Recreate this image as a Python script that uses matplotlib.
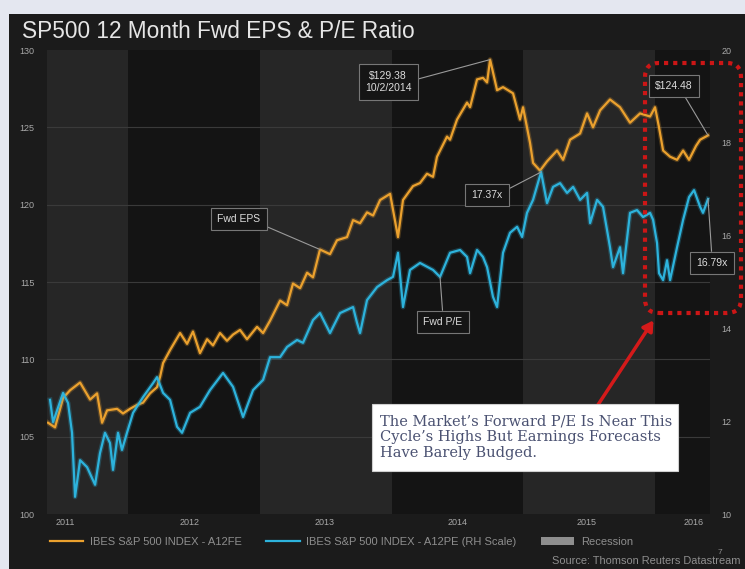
import matplotlib
matplotlib.use("Agg")
import matplotlib.pyplot as plt
import numpy as np
from matplotlib.patches import Rectangle, FancyBboxPatch, FancyArrowPatch
from matplotlib.lines import Line2D
from matplotlib.transforms import IdentityTransform

# ---- data (time in decimal years) ----
eps_t = [2011.393, 2011.446, 2011.507, 2011.560, 2011.636, 2011.712, 2011.765, 2011.803,
         2011.841, 2011.917, 2011.962, 2012.015, 2012.068, 2012.114, 2012.167, 2012.220,
         2012.243, 2012.266, 2012.319, 2012.395, 2012.448, 2012.493, 2012.546, 2012.600,
         2012.645, 2012.698, 2012.751, 2012.797, 2012.850, 2012.903, 2012.979, 2013.025,
         2013.078, 2013.154, 2013.207, 2013.252, 2013.306, 2013.359, 2013.404, 2013.457,
         2013.533, 2013.586, 2013.662, 2013.708, 2013.761, 2013.814, 2013.860, 2013.913,
         2013.989, 2014.049, 2014.087, 2014.163, 2014.216, 2014.269, 2014.315, 2014.345,
         2014.421, 2014.444, 2014.497, 2014.573, 2014.596, 2014.649, 2014.694, 2014.725,
         2014.748, 2014.801, 2014.846, 2014.922, 2014.975, 2014.998, 2015.051, 2015.074,
         2015.127, 2015.180, 2015.256, 2015.302, 2015.355, 2015.431, 2015.484, 2015.529,
         2015.583, 2015.658, 2015.734, 2015.810, 2015.886, 2015.962, 2016.000, 2016.030,
         2016.061, 2016.114, 2016.167, 2016.213, 2016.258, 2016.311, 2016.342, 2016.402]
eps_v = [105.9, 105.6, 107.5, 108.0, 108.5, 107.4, 107.8, 105.9,
         106.7, 106.8, 106.5, 106.8, 107.05, 107.2, 107.8, 108.2,
         108.86, 109.76, 110.6, 111.7, 111.0, 111.8, 110.4, 111.3,
         110.9, 111.7, 111.2, 111.6, 111.9, 111.3, 112.1, 111.7,
         112.5, 113.8, 113.5, 114.9, 114.6, 115.6, 115.3, 117.1,
         116.8, 117.7, 117.9, 119.0, 118.8, 119.5, 119.3, 120.3,
         120.7, 117.9, 120.3, 121.2, 121.4, 122.0, 121.8, 123.1,
         124.4, 124.2, 125.5, 126.6, 126.3, 128.1, 128.2, 127.9,
         129.38, 127.4, 127.6, 127.2, 125.5, 126.3, 124.0, 122.7,
         122.2, 122.8, 123.5, 122.9, 124.2, 124.6, 125.9, 125.0,
         126.1, 126.8, 126.3, 125.3, 125.9, 125.7, 126.3, 125.0,
         123.5, 123.1, 122.9, 123.5, 122.9, 123.8, 124.2, 124.48]

pe_t = [2011.408, 2011.431, 2011.507, 2011.545, 2011.575, 2011.598, 2011.636, 2011.689,
        2011.750, 2011.787, 2011.825, 2011.863, 2011.886, 2011.924, 2011.954, 2011.992,
        2012.038, 2012.114, 2012.190, 2012.220, 2012.266, 2012.319, 2012.372, 2012.410,
        2012.471, 2012.546, 2012.622, 2012.721, 2012.797, 2012.873, 2012.949, 2013.025,
        2013.078, 2013.154, 2013.207, 2013.283, 2013.328, 2013.404, 2013.457, 2013.533,
        2013.609, 2013.708, 2013.738, 2013.761, 2013.814, 2013.890, 2013.966, 2014.011,
        2014.049, 2014.087, 2014.140, 2014.216, 2014.315, 2014.368, 2014.444, 2014.520,
        2014.573, 2014.596, 2014.649, 2014.694, 2014.725, 2014.770, 2014.801, 2014.846,
        2014.899, 2014.953, 2014.991, 2015.028, 2015.074, 2015.135, 2015.180, 2015.226,
        2015.279, 2015.332, 2015.378, 2015.431, 2015.484, 2015.507, 2015.560, 2015.605,
        2015.658, 2015.681, 2015.734, 2015.757, 2015.810, 2015.863, 2015.909, 2015.962,
        2015.985, 2016.015, 2016.030, 2016.061, 2016.091, 2016.114, 2016.167, 2016.213,
        2016.258, 2016.296, 2016.342, 2016.364, 2016.402]
pe_v = [12.46, 11.98, 12.61, 12.39, 11.75, 10.37, 11.16, 11.01,
        10.63, 11.31, 11.75, 11.53, 10.95, 11.75, 11.38, 11.75,
        12.18, 12.52, 12.82, 12.95, 12.61, 12.46, 11.88, 11.75,
        12.18, 12.31, 12.67, 13.04, 12.74, 12.09, 12.67, 12.89,
        13.38, 13.38, 13.60, 13.75, 13.69, 14.18, 14.33, 13.90,
        14.33, 14.46, 14.12, 13.90, 14.61, 14.89, 15.04, 15.11,
        15.63, 14.46, 15.26, 15.41, 15.26, 15.11, 15.63, 15.69,
        15.54, 15.19, 15.69, 15.54, 15.32, 14.68, 14.46, 15.63,
        16.06, 16.19, 15.97, 16.49, 16.77, 17.37, 16.70, 17.05,
        17.13, 16.92, 17.05, 16.77, 16.92, 16.27, 16.77, 16.62,
        15.75, 15.32, 15.75, 15.19, 16.49, 16.55, 16.40, 16.49,
        16.34, 15.84, 15.19, 15.04, 15.47, 15.04, 15.75, 16.34,
        16.83, 16.98, 16.62, 16.49, 16.79]

year_ticks = [2011.52, 2012.47, 2013.49, 2014.50, 2015.48, 2016.29]
year_labels = ["2011", "2012", "2013", "2014", "2015", "2016"]
shaded_years = [2011, 2013, 2015]
eps_ticks = [100, 105, 110, 115, 120, 125, 130]
pe_ticks = [10, 12, 14, 16, 18, 20]
peak_date = "10/2/2014"

W, H = 745, 569
ORANGE = "#eba12e"
CYAN = "#2db3dc"
TICK = "#a8a8a8"
SANS = ["Liberation Sans", "DejaVu Sans"]

fig = plt.figure(figsize=(W / 100, H / 100), dpi=100, facecolor="#e4e7f0")
fig.patches.append(Rectangle((9 / W, 0), 1, 1 - 14 / H, transform=fig.transFigure,
                             facecolor="#1b1b1b", edgecolor="none", zorder=-5))

ax = fig.add_axes([47 / W, 1 - 514 / H, (710 - 47) / W, (514 - 50) / H])
ax.set_facecolor("#141414")
ax.set_xlim(2011.385, 2016.417)
ax.set_ylim(100, 130)
for yr in shaded_years:
    ax.axvspan(yr, yr + 1, color="#262626", lw=0, zorder=0)
for v in eps_ticks[1:-1]:
    ax.axhline(v, color="#3a3a3a", lw=0.8, zorder=1)

ax2 = ax.twinx()
ax2.set_ylim(10, 20)

for a in (ax, ax2):
    for s in a.spines.values():
        s.set_visible(False)

ax.set_xticks(year_ticks)
ax.set_xticklabels(year_labels)
ax.set_yticks(eps_ticks)
ax.set_yticklabels([str(v) for v in eps_ticks])
ax2.set_yticks(pe_ticks)
ax2.set_yticklabels([str(v) for v in pe_ticks])
ax.tick_params(axis="x", length=0, pad=3, labelsize=6.5, labelcolor=TICK)
ax.tick_params(axis="y", length=0, pad=9, labelsize=6.5, labelcolor=TICK)
ax2.tick_params(axis="y", length=0, pad=8, labelsize=6.5, labelcolor=TICK)
for lab in ax.get_xticklabels() + ax.get_yticklabels() + ax2.get_yticklabels():
    lab.set_family(SANS)

# series, with a faint glow under each line
ax.plot(eps_t, eps_v, color=ORANGE, lw=3.5, alpha=0.25, zorder=3)
ax.plot(eps_t, eps_v, color=ORANGE, lw=1.6, zorder=4)
ax2.plot(pe_t, pe_v, color=CYAN, lw=3.5, alpha=0.25, zorder=3)
ax2.plot(pe_t, pe_v, color=CYAN, lw=1.6, zorder=4)

box = dict(boxstyle="square,pad=0.6", facecolor="#151515", edgecolor="#777777", lw=0.8)
line = dict(arrowstyle="-", color="#9a9a9a", lw=0.8, shrinkA=0, shrinkB=0)
lab_kw = dict(textcoords="figure pixels", ha="center", va="center", fontsize=7.5,
              color="#dddddd", family=SANS, bbox=box, zorder=6, annotation_clip=False)

i_peak = int(np.argmax(eps_v))
ax.annotate(f"${eps_v[i_peak]:.2f}\n{peak_date}", xy=(eps_t[i_peak], eps_v[i_peak]),
            xytext=(388, H - 82), linespacing=1.35,
            arrowprops=dict(line, relpos=(1, 0.55)), **lab_kw)

i_eps_lab = eps_t.index(2013.457)
ax.annotate("Fwd EPS", xy=(eps_t[i_eps_lab], eps_v[i_eps_lab]),
            xytext=(239, H - 219), arrowprops=dict(line, relpos=(1, 0)), **lab_kw)

i_pe_lab = pe_t.index(2014.368)
ax2.annotate("Fwd P/E", xy=(pe_t[i_pe_lab], pe_v[i_pe_lab]),
             xytext=(443, H - 322), arrowprops=dict(line, relpos=(0.5, 1)), **lab_kw)

i_pe_peak = int(np.argmax(pe_v))
ax2.annotate(f"{pe_v[i_pe_peak]:.2f}x", xy=(pe_t[i_pe_peak], pe_v[i_pe_peak]),
             xytext=(487, H - 195), arrowprops=dict(line, relpos=(1, 0.8)), **lab_kw)

ax.annotate(f"${eps_v[-1]:.2f}", xy=(eps_t[-1], eps_v[-1]),
            xytext=(674, H - 86), arrowprops=dict(line, relpos=(0.7, 0)), **lab_kw)

ax2.annotate(f"{pe_v[-1]:.2f}x", xy=(pe_t[-1], pe_v[-1]),
             xytext=(712, H - 263), arrowprops=dict(line, relpos=(0.5, 1)), **lab_kw)

# highlight around the latest readings
hl = FancyBboxPatch((645, H - 313), 96, 250, boxstyle="round,pad=0,rounding_size=14",
                    transform=IdentityTransform(), facecolor="none", edgecolor="#cc1616",
                    lw=3, ls=(0, (1, 1.2)), zorder=7)
fig.patches.append(hl)

arrow = FancyArrowPatch((588, H - 420), (655, H - 318), transform=IdentityTransform(),
                        arrowstyle="-|>,head_length=6,head_width=3.5", color="#d41a1a",
                        lw=2.5, zorder=7)
fig.patches.append(arrow)

# callout text box
fig.patches.append(Rectangle((372, H - 471), 306, 67, transform=IdentityTransform(),
                             facecolor="white", edgecolor="#cfcfcf", lw=0.8, zorder=8))
fig.text(380 / W, 1 - 437 / H,
         "The Market\u2019s Forward P/E Is Near This\n"
         "Cycle\u2019s Highs But Earnings Forecasts\n"
         "Have Barely Budged.",
         ha="left", va="center", fontsize=10.5, color="#4b5272",
         family=["DejaVu Serif"], linespacing=1.15, zorder=9)

fig.text(22 / W, 1 - 31 / H, "SP500 12 Month Fwd EPS & P/E Ratio", ha="left", va="center",
         fontsize=16.3, color="#e6e6e6", family=SANS)

handles = [Line2D([], [], color=ORANGE, lw=1.6),
           Line2D([], [], color=CYAN, lw=1.6),
           Rectangle((0, 0), 1, 1, facecolor="#8e8e8e", edgecolor="none")]
leg = fig.legend(handles, ["IBES S&P 500 INDEX - A12FE",
                           "IBES S&P 500 INDEX - A12PE (RH Scale)", "Recession"],
                 loc="center left", bbox_to_anchor=(40 / W, 1 - 542 / H), ncol=3,
                 frameon=False, handlelength=3.0, columnspacing=2.2,
                 handletextpad=0.6, prop={"family": SANS, "size": 8})
for t in leg.get_texts():
    t.set_color("#8e8e8e")

fig.text(741 / W, 1 - 561 / H, "Source: Thomson Reuters Datastream", ha="right",
         va="center", fontsize=7.9, color="#8e8e8e", family=SANS)
fig.text(720 / W, 1 - 553 / H, "7", ha="center", va="center", fontsize=6,
         color="#8e8e8e", family=SANS)

fig.savefig("out.png", dpi=100, facecolor=fig.get_facecolor())
